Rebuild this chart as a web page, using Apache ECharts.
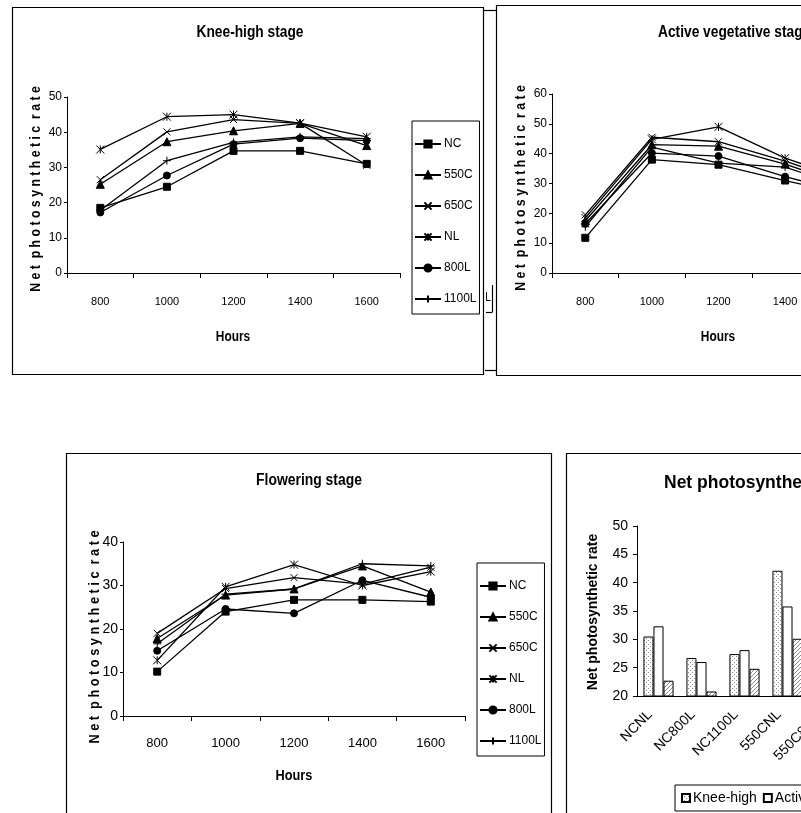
<!DOCTYPE html>
<html>
<head>
<meta charset="utf-8">
<script src="https://cdn.jsdelivr.net/npm/echarts/dist/echarts.min.js"></script>
<style>
html, body { margin: 0; padding: 0; background: #fff; }
#chart { width: 801px; height: 813px; }
</style>
</head>
<body>
<div id="chart"></div>
<script>
// hours of measurement and treatments
const hours = ['800', '1000', '1200', '1400', '1600']
const treatments = ['NC', '550C', '650C', 'NL', '800L', '1100L']

// rows follow treatments: NC, 550C, 650C, NL, 800L, 1100L
const kneeHighRates = [
  [18.5, 24.5, 34.7, 34.7, 31.0],
  [25.2, 37.3, 40.4, 42.5, 36.2],
  [26.5, 40.1, 43.6, 42.5, 30.6],
  [35.1, 44.4, 45.0, 42.6, 38.7],
  [17.2, 27.7, 36.6, 38.3, 37.6],
  [17.8, 31.9, 37.1, 38.7, 38.2]
]
const activeVegRates = [
  [11.8, 38.0, 36.3, 31.0, 26.0],
  [17.5, 43.0, 42.5, 36.5, 29.0],
  [19.5, 45.5, 44.0, 37.5, 30.0],
  [18.5, 44.8, 49.0, 38.5, 31.0],
  [16.5, 40.2, 39.2, 32.3, 26.5],
  [15.5, 42.2, 36.8, 35.5, 28.0]
]
const floweringRates = [
  [10.2, 24.0, 26.7, 26.7, 26.3],
  [17.8, 27.8, 29.2, 34.5, 28.5],
  [19.0, 29.3, 31.8, 30.3, 34.2],
  [12.8, 29.7, 34.8, 30.0, 33.2],
  [15.0, 24.6, 23.6, 31.2, 27.3],
  [16.6, 28.0, 29.2, 35.0, 34.5]
]

// bar chart: mean rate per combination
const barCategories = ['NCNL', 'NC800L', 'NC1100L', '550CNL', '550C800L', '550C1100L', '650CNL', '650C800L', '650C1100L']
const kneeHighMeans = [30.5, 26.7, 27.4, 42.1, 28.5, 30.2, 36.8, 31.5, 33.0]
const activeMeans = [32.3, 26.0, 28.1, 35.8, 31.0, 33.5, 37.2, 32.0, 34.0]
const floweringMeans = [22.7, 20.8, 24.8, 30.1, 26.5, 27.5, 29.0, 25.5, 28.0]

const ARIAL = '"Liberation Sans", Arial, sans-serif'

// marker per treatment
const markers = [
  { symbol: 'rect', size: 7 },
  { symbol: 'triangle', size: 8 },
  { symbol: 'path://M0,0L10,10M10,0L0,10', size: 7 },
  { symbol: 'path://M0,0L10,10M10,0L0,10M5,0L5,10', size: 8 },
  { symbol: 'circle', size: 7 },
  { symbol: 'path://M5,0L5,10M0,5L10,5', size: 8 }
]

function makePattern(kind) {
  const c = document.createElement('canvas')
  c.width = 4
  c.height = 4
  const g = c.getContext('2d')
  g.fillStyle = '#fff'
  g.fillRect(0, 0, 4, 4)
  g.fillStyle = '#8a8a8a'
  if (kind === 'dots') {
    g.fillRect(0, 0, 1, 1)
    g.fillRect(2, 2, 1, 1)
  } else {
    g.fillRect(0, 3, 1, 1)
    g.fillRect(1, 2, 1, 1)
    g.fillRect(2, 1, 1, 1)
    g.fillRect(3, 0, 1, 1)
  }
  return { image: c, repeat: 'repeat' }
}

// grids: line panels + bar panel (some run past the right edge, like the cropped page)
const grids = [
  { left: 67, top: 97, width: 333, height: 176 },
  { left: 552, top: 94, width: 333, height: 179 },
  { left: 123, top: 542, width: 342, height: 174 },
  { left: 637, top: 526, width: 387, height: 170 }
].map(g => Object.assign(g, { containLabel: false, outerBoundsMode: 'none' }))

function catAxis(idx) {
  return {
    type: 'category',
    gridIndex: idx,
    data: hours,
    boundaryGap: true,
    axisLine: { lineStyle: { color: '#000', width: 1 } },
    axisTick: { show: true, length: 5, lineStyle: { color: '#000' } },
    axisLabel: { color: '#000', fontFamily: ARIAL, fontSize: idx === 2 ? 13 : 11, margin: idx === 2 ? 21 : 23 }
  }
}
function valAxis(idx, max) {
  return {
    type: 'value',
    gridIndex: idx,
    min: 0,
    max: max,
    interval: 10,
    splitLine: { show: false },
    axisLine: { show: true, lineStyle: { color: '#000', width: 1 } },
    axisTick: { show: true, length: 3, lineStyle: { color: '#000' } },
    axisLabel: { color: '#000', fontFamily: ARIAL, fontSize: idx === 2 ? 14 : 12, margin: 5 }
  }
}

const series = []
const panels = [kneeHighRates, activeVegRates, floweringRates]
panels.forEach((rows, p) => {
  rows.forEach((vals, i) => {
    series.push({
      name: treatments[i],
      type: 'line',
      xAxisIndex: p,
      yAxisIndex: p,
      data: vals,
      symbol: markers[i].symbol,
      symbolSize: markers[i].size,
      showAllSymbol: true,
      lineStyle: { color: '#000', width: 1.3 },
      itemStyle: { color: '#000', borderColor: '#000', borderWidth: 1 },
      emphasis: { disabled: true }
    })
  })
})

const barStyle = (fill) => ({ color: fill, borderColor: '#000', borderWidth: 1 })
series.push(
  { name: 'Knee-high', type: 'bar', xAxisIndex: 3, yAxisIndex: 3, data: kneeHighMeans,
    barGap: '0%', barCategoryGap: '30%', itemStyle: barStyle(makePattern('dots')) },
  { name: 'Active vegetative', type: 'bar', xAxisIndex: 3, yAxisIndex: 3, data: activeMeans,
    barGap: '0%', barCategoryGap: '30%', itemStyle: barStyle('#fff') },
  { name: 'Flowering', type: 'bar', xAxisIndex: 3, yAxisIndex: 3, data: floweringMeans,
    barGap: '0%', barCategoryGap: '30%', itemStyle: barStyle(makePattern('diag')) }
)

const spaced = 'N e t  p h o t o s y n t h e t i c  r a t e'
function txt(x, y, text, font, rot, sx, align) {
  return {
    type: 'text', x: x, y: y, rotation: rot || 0, scaleX: sx || 1, silent: true,
    style: { text: text, font: font, fill: '#000', align: align || 'center', verticalAlign: 'middle',
      textAlign: align || 'center', textVerticalAlign: 'middle' }
  }
}
function box(x, y, w, h) {
  return { type: 'rect', silent: true, shape: { x: x, y: y, width: w, height: h },
    style: { fill: 'none', stroke: '#000', lineWidth: 1.2 } }
}
function seg(x1, y1, x2, y2) {
  return { type: 'line', silent: true, shape: { x1: x1, y1: y1, x2: x2, y2: y2 },
    style: { stroke: '#000', lineWidth: 1.2 } }
}

const legendLine = (left, top) => ({
  orient: 'vertical',
  left: left,
  top: top,
  data: treatments,
  borderColor: '#000',
  borderWidth: 1,
  padding: [17, 3, 9, 2],
  itemGap: 19,
  itemWidth: 26,
  itemHeight: 9,
  selectedMode: false,
  textStyle: { fontFamily: ARIAL, fontSize: 12, color: '#000', padding: [0, 0, 0, -2] }
})

const chart = echarts.init(document.getElementById('chart'))
chart.setOption({
  backgroundColor: '#fff',
  animation: false,
  grid: grids,
  xAxis: [
    catAxis(0), catAxis(1), catAxis(2),
    {
      type: 'category',
      gridIndex: 3,
      data: barCategories,
      axisLine: { lineStyle: { color: '#000' } },
      axisTick: { length: 4, lineStyle: { color: '#000' } },
      axisLabel: { color: '#000', fontFamily: ARIAL, fontSize: 14, rotate: 45, margin: 8,
        padding: [0, 12, 0, 0], interval: 0 }
    }
  ],
  yAxis: [
    valAxis(0, 50), valAxis(1, 60), valAxis(2, 40),
    {
      type: 'value',
      gridIndex: 3,
      min: 20,
      max: 50,
      interval: 5,
      splitLine: { show: false },
      axisLine: { show: true, lineStyle: { color: '#000' } },
      axisTick: { show: true, length: 4, lineStyle: { color: '#000' } },
      axisLabel: { color: '#000', fontFamily: ARIAL, fontSize: 14, margin: 9 }
    }
  ],
  legend: [
    legendLine(412, 121),
    legendLine(477, 563),
    {
      left: 675,
      top: 785,
      width: 500,
      data: ['Knee-high', 'Active vegetative', 'Flowering'],
      borderColor: '#000',
      borderWidth: 1,
      padding: [6, 8, 6, 6],
      itemGap: 6,
      itemWidth: 8,
      itemHeight: 8,
      icon: 'rect',
      selectedMode: false,
      textStyle: { fontFamily: ARIAL, fontSize: 14, color: '#000', padding: [0, 0, 0, -2] }
    }
  ],
  series: series,
  graphic: [
    box(12.5, 7.5, 471, 367),
    box(496.5, 5.5, 330, 370),
    seg(484, 10.5, 497, 10.5),
    seg(485, 370.5, 496, 370.5),
    seg(492.5, 285, 492.5, 312),
    seg(486, 312.5, 492.5, 312.5),
    txt(488, 298, 'L', '12px ' + ARIAL, 0, 0.85),
    box(66.5, 453.5, 485, 380),
    box(566.5, 453.5, 300, 380),
    txt(250, 33, 'Knee-high stage', 'bold 16px ' + ARIAL, 0, 0.86),
    txt(658, 33, 'Active vegetative stage', 'bold 16px ' + ARIAL, 0, 0.86, 'left'),
    txt(309, 481, 'Flowering stage', 'bold 16px ' + ARIAL, 0, 0.87),
    txt(664, 483, 'Net photosynthetic rate', 'bold 17.5px ' + ARIAL, 0, 1, 'left'),
    txt(36, 189, spaced, 'bold 15px ' + ARIAL, Math.PI / 2, 0.82),
    txt(521, 188, spaced, 'bold 15px ' + ARIAL, Math.PI / 2, 0.82),
    txt(95, 637, spaced, 'bold 15px ' + ARIAL, Math.PI / 2, 0.85),
    txt(593, 612, 'Net photosynthetic rate', 'bold 14px ' + ARIAL, Math.PI / 2),
    txt(233, 337, 'Hours', 'bold 14px ' + ARIAL, 0, 0.85),
    txt(718, 337, 'Hours', 'bold 14px ' + ARIAL, 0, 0.85),
    txt(294, 776, 'Hours', 'bold 15px ' + ARIAL, 0, 0.85)
  ]
})
</script>
</body>
</html>
